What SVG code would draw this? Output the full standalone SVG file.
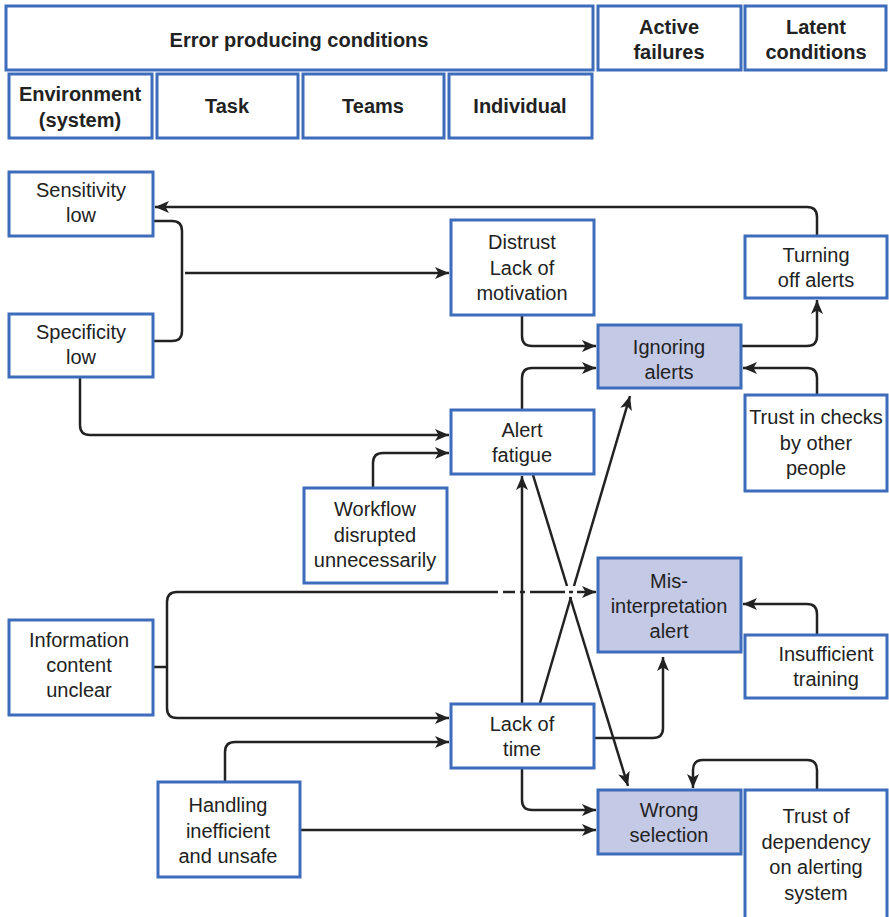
<svg xmlns="http://www.w3.org/2000/svg" width="889" height="917" viewBox="0 0 889 917">
  <style>
    .box { fill: #ffffff; stroke: #3d6dba; stroke-width: 3; }
    .act { fill: #c4c9e6; stroke: #3d6dba; stroke-width: 3; }
    .t { font-family: "Liberation Sans", Arial, sans-serif; font-size: 20px; fill: #222222; text-anchor: middle; }
    .h { font-family: "Liberation Sans", Arial, sans-serif; font-size: 20px; font-weight: bold; fill: #222222; text-anchor: middle; }
    .ln { fill: none; stroke: #222222; stroke-width: 2.5; }
    .arr { marker-end: url(#head); }
  </style>
  <defs>
    <marker id="head" markerUnits="userSpaceOnUse" markerWidth="15" markerHeight="13" refX="14" refY="6.5" orient="auto">
      <path d="M0,0.5 L14,6.5 L0,12.5 L3.5,6.5 z" fill="#222222"/>
    </marker>
  </defs>
  <rect width="889" height="917" fill="#ffffff"/>

  <!-- header -->
  <g id="hdr-epc"><rect class="box" x="6" y="6" width="587" height="64"/><text class="h" x="299" y="47">Error producing conditions</text></g>
  <g id="hdr-active"><rect class="box" x="598" y="6" width="143" height="64"/><text class="h" x="669" y="34">Active<tspan x="669" dy="25">failures</tspan></text></g>
  <g id="hdr-latent"><rect class="box" x="745" y="6" width="141" height="64"/><text class="h" x="816" y="34">Latent<tspan x="816" dy="25">conditions</tspan></text></g>
  <g id="hdr-env"><rect class="box" x="9" y="74" width="143" height="64"/><text class="h" x="80" y="101">Environment<tspan x="80" dy="26">(system)</tspan></text></g>
  <g id="hdr-task"><rect class="box" x="157" y="74" width="141" height="64"/><text class="h" x="227" y="113">Task</text></g>
  <g id="hdr-teams"><rect class="box" x="303" y="74" width="141" height="64"/><text class="h" x="373" y="113">Teams</text></g>
  <g id="hdr-indiv"><rect class="box" x="449" y="74" width="143" height="64"/><text class="h" x="520" y="113">Individual</text></g>

  <!-- connectors -->
  <g id="connectors">
    <path class="ln arr" d="M817,236 V217 Q817,207 807,207 H155"/>
    <path class="ln" d="M153,221 H172 Q182,221 182,231 V331 Q182,341 172,341 H153"/>
    <path class="ln arr" d="M185,273 H449"/>
    <path class="ln arr" d="M522,316 V336 Q522,346 532,346 H596"/>
    <path class="ln arr" d="M522,410 V378 Q522,368 532,368 H596"/>
    <path class="ln arr" d="M742,346 H807 Q817,346 817,336 V300"/>
    <path class="ln arr" d="M817,394 V378 Q817,368 807,368 H743"/>
    <path class="ln arr" d="M80,378 V425 Q80,435 90,435 H449"/>
    <path class="ln arr" d="M373,488 V463 Q373,453 383,453 H449"/>
    <path class="ln arr" d="M522,704 V476"/>
    <path class="ln arr" d="M522,768 V800 Q522,810 532,810 H596"/>
    <!-- crossing diagonals, broken briefly where they pass the dashed line -->
    <path class="ln" d="M533,475 L567,586"/>
    <path class="ln arr" d="M570,597 L628,786"/>
    <path class="ln" d="M540,703 L571,597"/>
    <path class="ln arr" d="M574,586 L630,396"/>
    <path class="ln" d="M153,667 H167"/>
    <path class="ln arr" d="M177,592 Q167,592 167,602 V708 Q167,718 177,718 H449"/>
    <path class="ln" d="M177,592 H498 M503,592 H515 M520,592 H525 M530,592 H565 M569,592 H573"/>
    <path class="ln arr" d="M577,592 H596"/>
    <path class="ln arr" d="M594,738 H653 Q663,738 663,728 V657"/>
    <path class="ln arr" d="M817,634 V614 Q817,604 807,604 H743"/>
    <path class="ln arr" d="M225,782 V752 Q225,742 235,742 H449"/>
    <path class="ln arr" d="M300,830 H596"/>
    <path class="ln arr" d="M817,790 V770 Q817,760 807,760 H703 Q693,760 693,770 V788"/>
  </g>

  <!-- nodes -->
  <g id="sensitivity"><rect class="box" x="9" y="172" width="144" height="64"/><text class="t" x="81" y="197">Sensitivity<tspan x="81" dy="25">low</tspan></text></g>
  <g id="specificity"><rect class="box" x="9" y="314" width="144" height="63"/><text class="t" x="81" y="339">Specificity<tspan x="81" dy="25">low</tspan></text></g>
  <g id="distrust"><rect class="box" x="451" y="220" width="143" height="95"/><text class="t" x="522" y="249">Distrust<tspan x="522" dy="25.5">Lack of</tspan><tspan x="522" dy="25.5">motivation</tspan></text></g>
  <g id="turning-off"><rect class="box" x="745" y="236" width="142" height="62"/><text class="t" x="816" y="262">Turning<tspan x="816" dy="25">off alerts</tspan></text></g>
  <g id="ignoring"><rect class="act" x="598" y="325" width="143" height="63"/><text class="t" x="669" y="354">Ignoring<tspan x="669" dy="25">alerts</tspan></text></g>
  <g id="alert-fatigue"><rect class="box" x="451" y="410" width="143" height="64"/><text class="t" x="522" y="437">Alert<tspan x="522" dy="25">fatigue</tspan></text></g>
  <g id="trust-checks"><rect class="box" x="745" y="395" width="142" height="96"/><text class="t" x="816" y="424">Trust in checks<tspan x="816" dy="25.5">by other</tspan><tspan x="816" dy="25.5">people</tspan></text></g>
  <g id="workflow"><rect class="box" x="304" y="488" width="143" height="95"/><text class="t" x="375" y="516">Workflow<tspan x="375" dy="25.5">disrupted</tspan><tspan x="375" dy="25.5">unnecessarily</tspan></text></g>
  <g id="misinterpretation"><rect class="act" x="598" y="558" width="143" height="94"/><text class="t" x="669" y="588">Mis-<tspan x="669" dy="25">interpretation</tspan><tspan x="669" dy="25">alert</tspan></text></g>
  <g id="insufficient"><rect class="box" x="745" y="635" width="142" height="63"/><text class="t" x="826" y="661">Insufficient<tspan x="826" dy="25">training</tspan></text></g>
  <g id="information"><rect class="box" x="9" y="620" width="144" height="95"/><text class="t" x="79" y="647">Information<tspan x="79" dy="25">content</tspan><tspan x="79" dy="25">unclear</tspan></text></g>
  <g id="lack-time"><rect class="box" x="451" y="704" width="143" height="64"/><text class="t" x="522" y="731">Lack of<tspan x="522" dy="25">time</tspan></text></g>
  <g id="handling"><rect class="box" x="158" y="782" width="142" height="95"/><text class="t" x="228" y="812">Handling<tspan x="228" dy="25.5">inefficient</tspan><tspan x="228" dy="25.5">and unsafe</tspan></text></g>
  <g id="wrong-selection"><rect class="act" x="598" y="790" width="143" height="64"/><text class="t" x="669" y="817">Wrong<tspan x="669" dy="25">selection</tspan></text></g>
  <g id="trust-dependency"><rect class="box" x="745" y="790" width="142" height="130"/><text class="t" x="816" y="823">Trust of<tspan x="816" dy="25.5">dependency</tspan><tspan x="816" dy="25.5">on alerting</tspan><tspan x="816" dy="25.5">system</tspan></text></g>
</svg>
